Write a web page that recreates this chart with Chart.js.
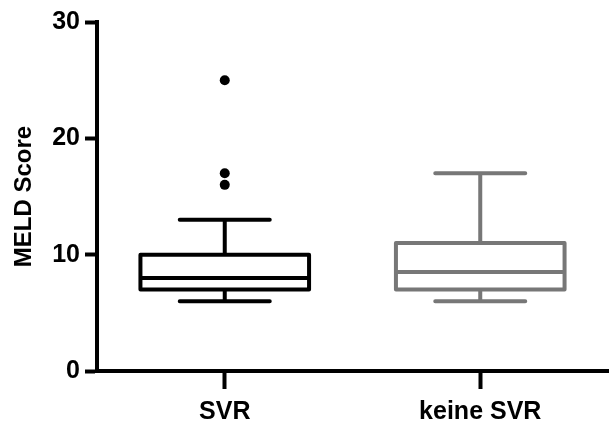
<!DOCTYPE html>
<html>
<head>
<meta charset="utf-8">
<script src="https://cdn.jsdelivr.net/npm/chart.js@4.4.1/dist/chart.umd.min.js"></script>
<style>
  html, body { margin: 0; padding: 0; background: #fff; }
  #wrap { width: 613px; height: 423px; }
</style>
</head>
<body>
<div id="wrap"><canvas id="c" width="613" height="423"></canvas></div>
<script>
// groups and their five-number summaries
const groups = ['SVR', 'keine SVR'];
const mins = [6, 6];
const q1s = [7, 7];
const medians = [8, 8.5];
const q3s = [10, 11];
const maxs = [13, 17];
const colors = ['#000000', '#777777'];

// outliers, only SVR has some
const outlierGroup = ['SVR', 'SVR', 'SVR'];
const outlierValues = [25, 17, 16];

const yTicks = [0, 10, 20, 30];

// box outline, median and whiskers, placed with the chart's scales
const boxPlugin = {
  id: 'whiskers',
  afterDatasetsDraw(chart) {
    const ctx = chart.ctx;
    const x = chart.scales.x;
    const y = chart.scales.y;
    const capHalf = 45;
    ctx.save();
    ctx.lineWidth = 4;
    groups.forEach((g, i) => {
      const cx = x.getPixelForValue(i);
      const bar = chart.getDatasetMeta(0).data[i];
      const half = bar.width / 2;
      const top = y.getPixelForValue(q3s[i]);
      const bot = y.getPixelForValue(q1s[i]);
      ctx.strokeStyle = colors[i];
      // box
      ctx.lineJoin = 'round';
      ctx.strokeRect(cx - half, top, half * 2, bot - top);
      // median
      ctx.lineCap = 'butt';
      ctx.beginPath();
      ctx.moveTo(cx - half, y.getPixelForValue(medians[i]));
      ctx.lineTo(cx + half, y.getPixelForValue(medians[i]));
      ctx.moveTo(cx, top);
      ctx.lineTo(cx, y.getPixelForValue(maxs[i]));
      ctx.moveTo(cx, bot);
      ctx.lineTo(cx, y.getPixelForValue(mins[i]));
      ctx.stroke();
      // caps
      ctx.lineCap = 'round';
      ctx.beginPath();
      ctx.moveTo(cx - capHalf, y.getPixelForValue(maxs[i]));
      ctx.lineTo(cx + capHalf, y.getPixelForValue(maxs[i]));
      ctx.moveTo(cx - capHalf, y.getPixelForValue(mins[i]));
      ctx.lineTo(cx + capHalf, y.getPixelForValue(mins[i]));
      ctx.stroke();
    });
    ctx.restore();
  }
};

const font = { family: 'Liberation Sans, Arial, sans-serif', weight: 'bold', size: 25 };

new Chart(document.getElementById('c'), {
  type: 'bar',
  data: {
    labels: groups,
    datasets: [
      {
        data: groups.map((g, i) => [q1s[i], q3s[i]]),
        backgroundColor: 'rgba(0,0,0,0)',
        borderWidth: 0,
        barPercentage: 0.66,
        categoryPercentage: 1
      },
      {
        type: 'line',
        showLine: false,
        data: outlierValues.map((v, i) => ({ x: outlierGroup[i], y: v })),
        pointRadius: 5,
        pointBackgroundColor: '#000',
        pointBorderWidth: 0
      }
    ]
  },
  options: {
    responsive: false,
    animation: false,
    layout: { padding: { top: 22, right: 0, left: 0, bottom: 0 } },
    plugins: { legend: { display: false }, tooltip: { enabled: false } },
    scales: {
      x: {
        offset: true,
        grid: { display: true, drawOnChartArea: false, offset: false, tickLength: 18, tickWidth: 4, tickColor: '#000' },
        border: { display: true, color: '#000', width: 4 },
        ticks: { color: '#000', font: font, padding: 8 },
        afterFit(s) { s.height = 52; }
      },
      y: {
        min: 0,
        max: 30,
        afterBuildTicks(s) { s.ticks = yTicks.map(v => ({ value: v })); },
        grid: { display: true, drawOnChartArea: false, tickLength: 12, tickWidth: 4, tickColor: '#000' },
        border: { display: true, color: '#000', width: 4 },
        ticks: { color: '#000', font: font, padding: 5 },
        title: { display: true, text: 'MELD Score', color: '#000', font: { family: 'Liberation Sans, Arial, sans-serif', weight: 'bold', size: 24 }, padding: { top: 10, bottom: 0 } },
        afterFit(s) { s.width = 97; }
      }
    }
  },
  plugins: [boxPlugin]
});
</script>
</body>
</html>
